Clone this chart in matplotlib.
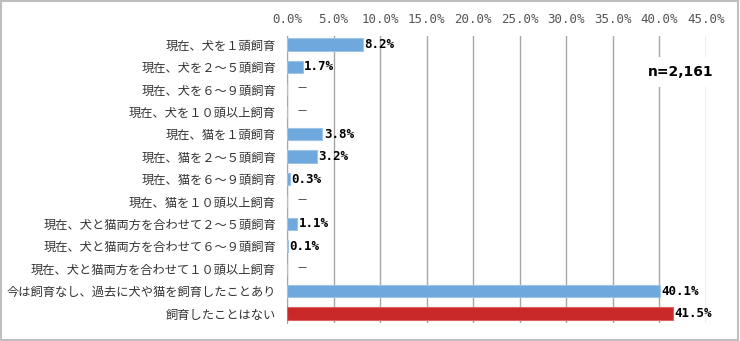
import numpy as np
import matplotlib.pyplot as plt

plt.rcParams['font.family'] = ['Noto Sans CJK JP', 'DejaVu Sans']

# data
categories = [
    '現在、犬を１頭飼育',
    '現在、犬を２～５頭飼育',
    '現在、犬を６～９頭飼育',
    '現在、犬を１０頭以上飼育',
    '現在、猫を１頭飼育',
    '現在、猫を２～５頭飼育',
    '現在、猫を６～９頭飼育',
    '現在、猫を１０頭以上飼育',
    '現在、犬と猫両方を合わせて２～５頭飼育',
    '現在、犬と猫両方を合わせて６～９頭飼育',
    '現在、犬と猫両方を合わせて１０頭以上飼育',
    '今は飼育なし、過去に犬や猫を飼育したことあり',
    '飼育したことはない',
]
values = [8.2, 1.7, None, None, 3.8, 3.2, 0.3, None, 1.1, 0.1, None, 40.1, 41.5]
xticks = [0, 5, 10, 15, 20, 25, 30, 35, 40, 45]
n_label = 'n=2,161'

blue = '#6FA8DC'
red = '#C82828'

fig = plt.figure(figsize=(7.4, 3.41), dpi=100)
ax = fig.add_axes([287 / 740, 1 - 323 / 341, 419 / 740, (323 - 36) / 341])

y = np.arange(len(categories))
vals = [v if v is not None else 0 for v in values]
colors = [blue] * (len(categories) - 1) + [red]
edges = ['#9DC3E6'] * (len(categories) - 1) + ['#E06060']
ax.barh(y, vals, height=0.55, color=colors, edgecolor=edges, linewidth=0.8, zorder=3)

for yi, v in zip(y, values):
    if v is None:
        ax.text(1.6, yi, '－', ha='center', va='center', fontsize=8, color='#333333')
    else:
        ax.text(v + 0.15, yi, f'{v:.1f}%', ha='left', va='center', fontsize=9,
                color='black', family=['DejaVu Sans Mono'], fontweight='bold', zorder=4)

ax.set_xlim(0, 45)
ax.set_ylim(len(categories) - 1 + 0.42, -0.38)
ax.set_xticks(xticks)
ax.set_xticklabels([f'{t:.1f}%' for t in xticks], family=['DejaVu Sans Mono'], color='#555555', fontsize=9)
ax.xaxis.tick_top()
ax.tick_params(axis='x', length=0, pad=7)
ax.set_yticks(y)
ax.set_yticklabels(categories, fontsize=8.8, color='#333333')
ax.tick_params(axis='y', length=0, pad=8)
ax.grid(axis='x', color='#A6A6A6', linewidth=1, zorder=0)
for s in ['top', 'right', 'bottom']:
    ax.spines[s].set_visible(False)
ax.spines['left'].set_color('#A6A6A6')

ax.text(0.94, 0.875, n_label, transform=ax.transAxes, ha='center', va='center',
        fontsize=10, fontweight='bold', family=['DejaVu Sans'],
        bbox=dict(facecolor='white', edgecolor='none', pad=6), zorder=5)

# outer frame
fig.patches.append(plt.Rectangle((0.002, 0.003), 0.995, 0.993, transform=fig.transFigure,
                                 fill=False, edgecolor='#BFBFBF', linewidth=1.5))

fig.savefig('out.png', dpi=100)
